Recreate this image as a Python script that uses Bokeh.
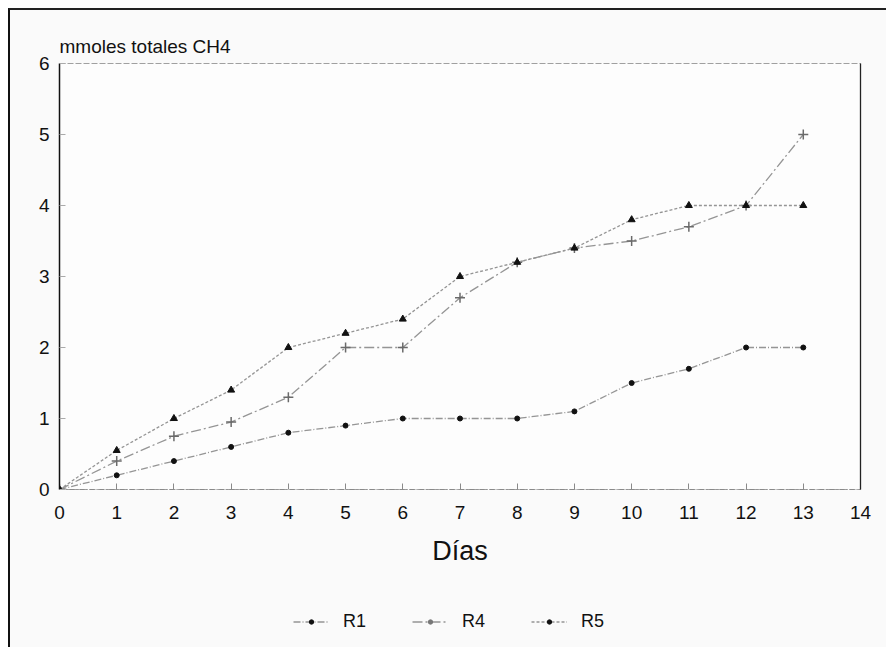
from bokeh.plotting import figure
from bokeh.layouts import column
from bokeh.models import (Range1d, LinearAxis, FixedTicker, Legend, LegendItem)
from bokeh.embed import file_html
from bokeh.resources import INLINE

# Total methane (mmol) accumulated per reactor, by day
dias = list(range(14))
r1 = [0, 0.2, 0.4, 0.6, 0.8, 0.9, 1.0, 1.0, 1.0, 1.1, 1.5, 1.7, 2.0, 2.0]
r4 = [0, 0.4, 0.75, 0.95, 1.3, 2.0, 2.0, 2.7, 3.2, 3.4, 3.5, 3.7, 4.0, 5.0]
r5 = [0, 0.55, 1.0, 1.4, 2.0, 2.2, 2.4, 3.0, 3.2, 3.4, 3.8, 4.0, 4.0, 4.0]
x_ticks = list(range(15))
y_ticks = list(range(7))
series_names = ["R1", "R4", "R5"]

FONT = "Liberation Sans"
INK = "#111111"
LINE = "#959595"
BG = "#fafafa"

# line / marker style per series
styles = [
    dict(dash="7 2 1 2", marker="circle", size=5, fill=INK, edge=INK, lw=1, key="#111111"),
    dict(dash="10 3 2 3", marker="cross", size=10, fill=None, edge="#6a6a6a", lw=1.5, key="#777777"),
    dict(dash="3 2", marker="triangle", size=7, fill=INK, edge=INK, lw=1, key="#111111"),
]

W, H_MAIN, H_LEG = 876, 580, 57

p = figure(width=W, height=H_MAIN, x_range=Range1d(0, 14), y_range=Range1d(0, 6),
           output_backend="svg", toolbar_location=None,
           min_border_left=49, min_border_right=26,
           min_border_top=53, min_border_bottom=H_MAIN - 479,
           background_fill_color="#fdfdfd", border_fill_color=BG)
p.grid.visible = False
p.outline_line_color = "#a0a0a0"
p.outline_line_dash = "6 2"

p.title.text = "mmoles totales CH4"
p.title.align = "left"
p.title.text_font = FONT
p.title.text_font_size = "19px"
p.title.text_font_style = "normal"
p.title.text_color = INK
p.title.standoff = 14

# bottom axis
xa = p.xaxis[0]
xa.ticker = FixedTicker(ticks=x_ticks)
xa.axis_line_color = "#8a8a8a"
xa.axis_line_dash = "5 2 1 2"
xa.major_tick_in = 6
xa.major_tick_out = 0
xa.major_tick_line_color = "#8a8a8a"
xa.minor_tick_line_color = None
xa.major_label_text_font = FONT
xa.major_label_text_font_size = "19px"
xa.major_label_text_color = INK
xa.major_label_standoff = 16
xa.axis_label = "Días"
xa.axis_label_text_font = FONT
xa.axis_label_text_font_style = "normal"
xa.axis_label_text_font_size = "27px"
xa.axis_label_text_color = INK
xa.axis_label_standoff = 14

# left axis
ya = p.yaxis[0]
ya.ticker = FixedTicker(ticks=y_ticks)
ya.axis_line_color = INK
ya.axis_line_width = 1.5
ya.major_tick_in = 6
ya.major_tick_out = 0
ya.major_tick_line_color = "#aaaaaa"
ya.minor_tick_line_color = None
ya.major_label_text_font = FONT
ya.major_label_text_font_size = "19px"
ya.major_label_text_color = INK
ya.major_label_standoff = 10

# right edge of the frame
ra = LinearAxis(ticker=FixedTicker(ticks=[]), major_label_text_font_size="0px",
                major_tick_line_color=None, minor_tick_line_color=None,
                axis_line_color="#222222", axis_line_width=1.3)
p.add_layout(ra, "right")

for ys, st in zip([r1, r4, r5], styles):
    p.line(dias, ys, line_color=LINE, line_width=1.3, line_dash=st["dash"])
    p.scatter(dias, ys, marker=st["marker"], size=st["size"],
              fill_color=st["fill"], line_color=st["edge"], line_width=st["lw"])

# legend strip under the chart; its renderers sit outside the visible range
leg = figure(width=W, height=H_LEG, x_range=Range1d(0, 1), y_range=Range1d(0, 1),
             output_backend="svg", toolbar_location=None, min_border=0,
             background_fill_color=BG, border_fill_color=BG)
leg.axis.visible = False
leg.grid.visible = False
leg.outline_line_color = None
items = []
for name, st in zip(series_names, styles):
    ln = leg.line([-3, -2], [-3, -3], line_color=LINE, line_width=1.3, line_dash=st["dash"])
    mk = leg.scatter([-3], [-3], marker="circle", size=4, fill_color=st["key"], line_color=st["key"])
    items.append(LegendItem(label=name, renderers=[ln, mk]))
leg.add_layout(Legend(items=items, orientation="horizontal", location=(234, 15),
                      glyph_width=36, glyph_height=11, label_standoff=14, spacing=46,
                      padding=0, margin=0, border_line_color=None,
                      background_fill_alpha=0,
                      label_text_font=FONT, label_text_font_size="18px",
                      label_text_color=INK), "center")

page = column(p, leg, spacing=0,
              styles={"margin-left": "8px", "margin-top": "8px",
                      "border-left": "2px solid #111111",
                      "border-top": "2px solid #222222",
                      "background-color": BG})

open("out.html", "w").write(file_html(page, INLINE))
